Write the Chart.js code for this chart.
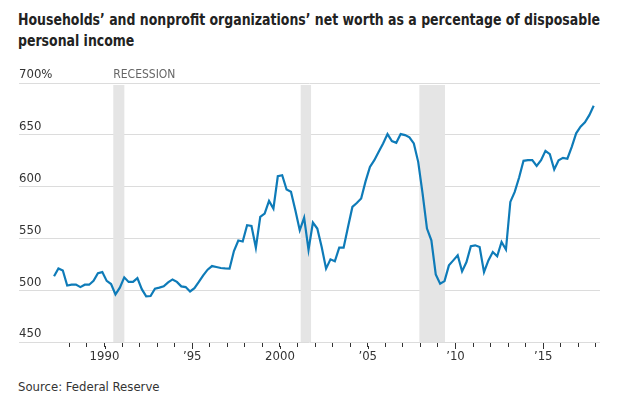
<!DOCTYPE html>
<html>
<head>
<meta charset="utf-8">
<script src="https://cdn.jsdelivr.net/npm/chart.js@4.4.0/dist/chart.umd.min.js"></script>
<style>
  body { margin: 0; background: #fff; width: 640px; height: 399px; overflow: hidden; position: relative; }
  #title {
    position: absolute; left: 18px; top: 9px; white-space: nowrap;
    font-family: "Liberation Sans Narrow", "DejaVu Sans Condensed", Roboto, sans-serif;
    font-weight: bold; font-size: 16px; line-height: 21px; color: #222;
    transform-origin: left top;
  }
  #source {
    position: absolute; left: 18px; top: 379px; white-space: nowrap;
    font-family: "Liberation Sans Narrow", "DejaVu Sans Condensed", Roboto, sans-serif;
    font-size: 13px; color: #333;
  }
  canvas { position: absolute; left: 0; top: 0; }
</style>
</head>
<body>
<div id="title"><span id="line1">Households’ and nonprofit organizations’ net worth as a percentage of disposable</span><br>personal income</div>
<div id="source">Source: Federal Reserve</div>
<canvas id="chart" width="640" height="399"></canvas>
<script>
// quarterly values, 1987 Q1 .. 2017 Q4 (percent of disposable income)
const firstYear = 1987;
const netWorth = [
  513.5, 521, 519, 504.5,
  505.3, 505.5, 503, 505.3,
  505.3, 509, 516.5, 517.5,
  509, 506, 496, 502.5,
  512.4, 508, 508, 511.7,
  501, 494, 494.4, 501.5,
  502.5, 503.7, 507.5, 510.4,
  508, 503.7, 503, 498.8,
  502, 508, 514.3, 519.8,
  523.3, 522.4, 521.4, 521,
  520.8, 537.8, 548, 547,
  562.7, 562, 541, 570.7,
  574, 586.2, 578.8, 610,
  611, 597.2, 595, 577.2,
  557.8, 570, 539, 565.3,
  559.5, 541.7, 520.8, 529.8,
  527.9, 541, 541, 561,
  580.4, 584.2, 588.5, 605,
  619, 625.5, 633.6, 641.7,
  650.7, 643.9, 642.3, 650.7,
  649.7, 647.5, 641.7, 623.9,
  593.3, 559.5, 548.2, 515.3,
  506.3, 508.8, 524, 528.8,
  533.7, 518.2, 527.2, 542.5,
  543.3, 541.7, 517.5, 528.8,
  536.8, 532.7, 546.5, 539.2,
  585.2, 594.9, 608.8, 624.9,
  625.5, 625.5, 620, 625.5,
  634.5, 631.3, 616.5, 625.5,
  627.8, 626.9, 638.4, 651.4,
  657.8, 662, 669, 678
];

const recessionStart = [1990.5, 2001.18, 2007.94];
const recessionEnd = [1991.13, 2001.77, 2009.4];

const tickYears = [1988, 1989, 1990, 1991, 1992, 1993, 1994, 1995, 1996, 1997,
  1998, 1999, 2000, 2001, 2002, 2003, 2004, 2005, 2006, 2007, 2008, 2009,
  2010, 2011, 2012, 2013, 2014, 2015, 2016, 2017, 2018];
const labeledYears = [1990, 1995, 2000, 2005, 2010, 2015];
const yearLabels = ["1990", "’95", "2000", "’05", "’10", "’15"];

const fontStack = '"Liberation Sans Narrow", "DejaVu Sans Condensed", Roboto, sans-serif';

// fit title line to the width in the reference
const title = document.getElementById("title");
const w1 = document.getElementById("line1").offsetWidth;
title.style.transform = "scaleX(" + (582 / w1) + ")";

const points = netWorth.map((v, i) => ({ x: firstYear + (i + 0.5) / 4, y: v }));

// grey recession bands + label
const recessionBands = {
  id: "recessionBands",
  beforeDatasetsDraw(chart) {
    const { ctx, chartArea, scales } = chart;
    ctx.save();
    ctx.fillStyle = "#e5e5e5";
    recessionStart.forEach((s, i) => {
      const x0 = scales.x.getPixelForValue(s);
      const x1 = scales.x.getPixelForValue(recessionEnd[i]);
      ctx.fillRect(x0, chartArea.top + 2, x1 - x0, chartArea.bottom - chartArea.top - 2);
    });
    ctx.fillStyle = "#666";
    ctx.font = "12px " + fontStack;
    ctx.textBaseline = "middle";
    ctx.textAlign = "left";
    ctx.fillText("RECESSION", scales.x.getPixelForValue(recessionStart[0]), chartArea.top - 8);
    ctx.restore();
  },
  // labelled years get a slightly longer tick
  afterDraw(chart) {
    const { ctx, chartArea, scales } = chart;
    ctx.save();
    ctx.strokeStyle = "#333";
    ctx.lineWidth = 1;
    labeledYears.forEach(y => {
      const x = Math.round(scales.x.getPixelForValue(y)) + 0.5;
      ctx.beginPath();
      ctx.moveTo(x, chartArea.bottom + 4);
      ctx.lineTo(x, chartArea.bottom + 7);
      ctx.stroke();
    });
    ctx.restore();
  }
};

Chart.defaults.font.family = fontStack;
Chart.defaults.color = "#333";

new Chart(document.getElementById("chart"), {
  type: "line",
  data: {
    datasets: [{
      data: points,
      borderColor: "#0e7bb8",
      borderWidth: 2.2,
      pointRadius: 0,
      tension: 0,
      fill: false
    }]
  },
  options: {
    responsive: false,
    animation: false,
    devicePixelRatio: 1,
    layout: { padding: { left: 19, right: 40, top: 83, bottom: 27 } },
    plugins: { legend: { display: false }, tooltip: { enabled: false } },
    scales: {
      x: {
        type: "linear",
        min: 1985.128,
        max: 2018.234,
        afterFit(scale) { scale.height = 30; },
        afterBuildTicks(scale) { scale.ticks = tickYears.map(v => ({ value: v })); },
        border: { display: false },
        grid: { drawOnChartArea: false, drawTicks: true, tickLength: 5, tickColor: "#333", tickWidth: 1 },
        ticks: {
          autoSkip: false, maxRotation: 0, padding: 2,
          font: { size: 13 }, color: "#333",
          callback(v) {
            const i = labeledYears.indexOf(v);
            return i >= 0 ? yearLabels[i] : "";
          }
        }
      },
      y: {
        min: 450,
        max: 700,
        afterFit(scale) { scale.width = 0; },
        border: { display: false },
        grid: { color: "#dcdcdc", lineWidth: 1, drawTicks: false },
        ticks: {
          stepSize: 50, mirror: true, padding: 0, labelOffset: -8,
          font: { size: 13 }, color: "#333",
          callback(v) { return v === 700 ? v + "%" : v; }
        }
      }
    }
  },
  plugins: [recessionBands]
});
</script>
</body>
</html>
